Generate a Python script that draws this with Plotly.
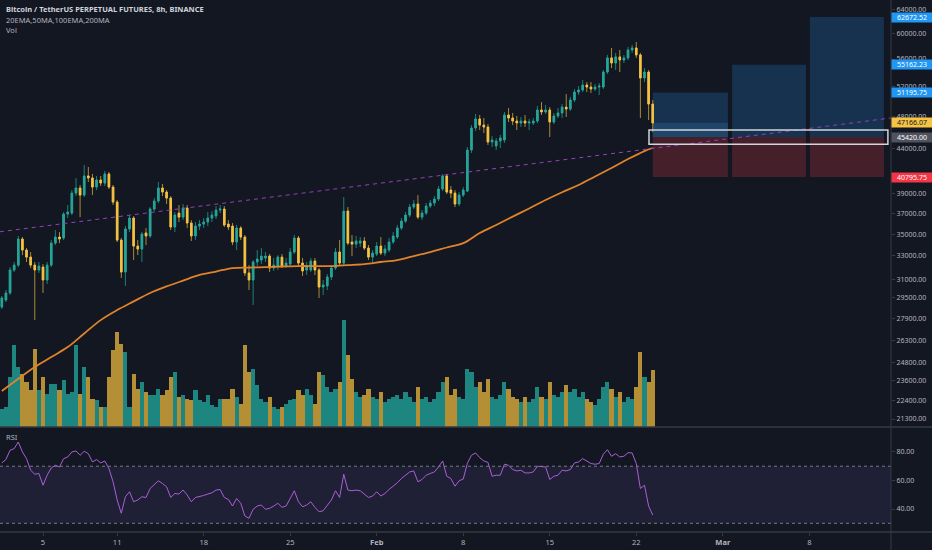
import math
import pandas as pd
import plotly.graph_objects as go

# BTCUSDT perpetual, 8h bars starting 2021-01-01 16:00
first_bar = "2021-01-01 16:00"

opens = [
    28770, 29320, 29880, 31780, 32200, 34540, 33530, 32900, 32200, 31780,
    32030, 30940, 32200, 34160, 34720, 34630, 36930, 37030, 39070, 39610,
    38860, 40910, 40690, 39710, 40470, 40140, 41130, 39710, 38140, 34440,
    31610, 35480, 36540, 33890, 33620, 35100, 34820, 37430, 38250, 39610,
    39180, 38550, 35670, 37030, 36630, 37530, 36050, 34820, 35760, 35950,
    36150, 36540, 36730, 37330, 37430, 35950, 35760, 34260, 35570, 34720,
    31530, 30940, 32470, 32640, 32820, 32990, 31950, 32120, 32900, 32120,
    32290, 33350, 34630, 32380, 31780, 31780, 32550, 31780, 30360, 30450,
    31190, 31950, 33350, 32380, 37230, 34260, 34070, 34160, 34350, 33710,
    32900, 33170, 33890, 33260, 33530, 34260, 34720, 35570, 36240, 36830,
    37630, 37940, 36630, 37030, 37730, 38040, 38450, 39500, 40910, 39390,
    39070, 37940, 38860, 39280, 43860, 46530, 47670, 46900, 46650, 44820,
    44340, 44940, 45060, 48190, 47800, 47410, 47160, 47410, 47160, 47160,
    47410, 48840, 48580, 48840, 47290, 48060, 48450, 49220, 48960, 50160,
    51250, 51530, 52220, 51940, 51670, 51940, 51940, 54080, 56170, 55400,
    56320, 55850, 56170, 57380, 57690, 56620, 53220, 54080, 49620,
]
highs = [
    29640, 30120, 32030, 32470, 34820, 34720, 33710, 33350, 32470, 32470,
    32290, 32470, 34440, 35380, 35190, 37130, 37840, 39390, 40690, 39930,
    42130, 41910, 41130, 40910, 40910, 41460, 41350, 39930, 38350, 34630,
    35760, 36830, 36730, 34440, 35190, 35570, 37630, 38550, 40250, 40040,
    39390, 38760, 37130, 37840, 37940, 37840, 36340, 36150, 36340, 36540,
    37130, 37230, 37730, 37840, 37730, 36340, 36050, 35860, 35760, 34910,
    32200, 32640, 33530, 33710, 33350, 33170, 32820, 33080, 33170, 32820,
    33710, 34910, 34820, 32820, 32470, 32820, 32820, 31950, 30940, 31440,
    32200, 33710, 34440, 38660, 37630, 34910, 34820, 34720, 34720, 33980,
    33530, 34260, 34720, 33980, 34630, 35190, 35860, 36540, 37130, 37940,
    38350, 38860, 37330, 38040, 38350, 38760, 39820, 41130, 41130, 39820,
    39390, 39180, 39710, 44220, 46900, 48320, 48190, 47800, 47030, 45550,
    45300, 45670, 48580, 49090, 48450, 48060, 47930, 48190, 47670, 47800,
    49360, 49890, 49490, 49220, 48450, 49090, 49620, 50970, 50570, 51670,
    52080, 52930, 52640, 52640, 52360, 52500, 54370, 56620, 57690, 56920,
    57380, 56620, 57850, 58160, 58630, 56920, 54660, 54370, 50160,
]
lows = [
    28620, 29160, 29720, 31610, 32030, 33080, 32470, 31950, 27780, 31530,
    29880, 30610, 32030, 33980, 34160, 34440, 36540, 36830, 38760, 36630,
    38660, 40250, 38860, 39390, 39820, 39820, 39500, 37840, 34260, 31110,
    30450, 35190, 32640, 33080, 32470, 33980, 34630, 37230, 38040, 38760,
    37940, 35380, 35190, 36150, 36340, 35570, 34350, 34440, 35380, 35570,
    35760, 36150, 36440, 37030, 35670, 35380, 33980, 33530, 34440, 31270,
    30120, 28930, 32120, 32290, 32470, 31610, 31700, 31780, 31950, 31950,
    32120, 33170, 32120, 31270, 31360, 31610, 31360, 29480, 29720, 30120,
    30940, 31780, 32120, 32120, 33980, 32990, 33710, 33800, 33530, 32640,
    32380, 32990, 33080, 32990, 33350, 34070, 34540, 35380, 36050, 36630,
    37430, 36440, 36340, 36830, 37530, 37730, 38250, 39280, 38970, 38550,
    37630, 37730, 38660, 39180, 43510, 46160, 46280, 45910, 44460, 44220,
    43860, 44100, 44700, 47290, 46900, 46280, 46650, 46650, 46280, 46900,
    47160, 48190, 48320, 45420, 47030, 47800, 47800, 47930, 48710, 49890,
    50840, 51250, 51250, 51110, 51390, 50840, 51670, 53790, 54660, 54370,
    54080, 55400, 55850, 56920, 56170, 47800, 52640, 47540, 46030,
]
closes = [
    29480, 29880, 31780, 32200, 34540, 33530, 32900, 32200, 31780, 32120,
    30940, 32200, 34160, 34720, 34540, 36930, 37130, 39070, 39610, 38860,
    40910, 40690, 39710, 40470, 40140, 41130, 39710, 38140, 34440, 31610,
    35480, 36540, 33890, 33620, 35000, 34820, 37430, 38250, 39610, 39180,
    38550, 35670, 36830, 36630, 37530, 36050, 34820, 35760, 35950, 36150,
    36540, 36830, 37330, 37430, 35860, 35670, 34260, 35570, 34720, 31530,
    30940, 32470, 32730, 32990, 32990, 31950, 32200, 32900, 32120, 32380,
    33350, 34630, 32380, 31700, 32030, 32550, 31780, 30360, 30530, 31190,
    31950, 33350, 32380, 37230, 34160, 34070, 34350, 34350, 33710, 32900,
    33260, 33890, 33260, 33620, 34260, 34820, 35570, 36240, 36830, 37630,
    37940, 36630, 37030, 37730, 38040, 38450, 39500, 40910, 39180, 39070,
    37940, 38860, 39390, 43860, 46530, 47670, 46900, 46650, 44820, 45060,
    44940, 45300, 48190, 47800, 47410, 47160, 47410, 47160, 47290, 47410,
    48840, 48580, 48840, 47290, 48060, 48450, 49220, 48960, 50160, 51250,
    51530, 52220, 51940, 51670, 51940, 52080, 54080, 56170, 55400, 56320,
    55850, 56170, 57380, 57690, 56620, 53220, 54080, 49620, 47166.07,
]
volume_k = [
    18, 20, 50, 82, 60, 53, 45, 37, 78, 37,
    50, 33, 43, 43, 37, 47, 33, 35, 82, 33,
    60, 50, 28, 27, 20, 20, 50, 77, 95, 83,
    75, 20, 53, 38, 45, 35, 32, 32, 38, 32,
    37, 50, 55, 30, 32, 28, 27, 37, 27, 25,
    32, 22, 20, 28, 28, 28, 38, 30, 23, 82,
    55, 58, 42, 28, 25, 30, 20, 18, 20, 23,
    27, 28, 37, 32, 38, 32, 23, 55, 52, 40,
    35, 38, 45, 107, 72, 48, 35, 30, 32, 38,
    30, 28, 35, 25, 28, 30, 32, 28, 35, 30,
    25, 40, 28, 30, 25, 28, 35, 45, 50, 32,
    38, 30, 28, 58, 55, 40, 45, 35, 48, 30,
    28, 32, 45, 38, 30, 28, 25, 30, 25, 28,
    40, 30, 28, 45, 32, 30, 35, 42, 35, 38,
    30, 35, 28, 25, 22, 28, 40, 45, 38, 30,
    35, 25, 30, 28, 40, 75, 50, 45, 57,
]
rsi = [
    72.3, 74.7, 81.2, 82.3, 87.0, 80.0, 75.3, 67.2, 64.4, 64.9,
    56.7, 63.7, 68.8, 70.7, 69.5, 75.3, 76.5, 80.0, 80.7, 77.7,
    80.5, 78.8, 73.0, 74.7, 72.3, 73.7, 68.4, 59.1, 46.3, 37.0,
    48.6, 52.1, 45.1, 46.3, 48.6, 48.1, 54.4, 57.4, 59.8, 57.9,
    55.6, 48.1, 50.9, 50.5, 53.3, 49.8, 45.1, 48.1, 48.6, 49.5,
    50.5, 51.4, 53.3, 53.7, 48.1, 46.7, 42.1, 47.4, 44.0, 35.1,
    33.5, 39.8, 42.1, 42.8, 39.8, 40.5, 42.1, 44.0, 41.2, 42.1,
    47.4, 52.8, 45.1, 41.6, 42.8, 45.1, 41.2, 38.1, 38.8, 42.8,
    46.3, 52.8, 48.1, 64.4, 53.3, 52.8, 53.3, 52.8, 50.5, 48.1,
    49.1, 52.1, 49.1, 50.9, 53.7, 56.0, 58.4, 61.4, 63.7, 66.0,
    66.7, 59.1, 60.7, 63.7, 64.9, 66.0, 69.5, 73.7, 63.0, 61.4,
    56.0, 59.8, 61.0, 72.0, 77.7, 79.3, 76.0, 73.7, 72.7, 63.0,
    63.7, 63.7, 71.4, 70.7, 67.7, 66.7, 67.2, 65.3, 65.3, 66.0,
    70.0, 70.0, 69.5, 60.7, 63.0, 63.7, 67.2, 66.7, 67.7, 72.3,
    73.0, 75.3, 73.7, 71.9, 71.4, 71.9, 78.4, 81.6, 77.0, 78.8,
    76.5, 77.0, 79.5, 79.3, 71.9, 54.4, 56.7, 42.1, 35.8,
]
# moving average (orange) read at every 4th bar
ma_bars = [0, 4, 8, 12, 16, 20, 24, 28, 32, 36, 40, 44, 48, 52, 56, 60, 64, 68, 72, 76,
           80, 84, 88, 92, 96, 100, 104, 108, 112, 116, 120, 124, 128, 132, 136, 140,
           144, 148, 152, 156, 158]
ma_vals = [22960, 23730, 24490, 25160, 25840, 26800, 27780, 28540, 29210, 29880,
           30410, 30890, 31360, 31650, 31950, 31990, 32030, 32080, 32120, 32120,
           32120, 32200, 32290, 32470, 32640, 32990, 33350, 33760, 34160, 35100,
           35860, 36680, 37490, 38350, 39160, 39930, 40850, 41790, 42810, 43740, 44100]

# drawings
trend_dates = ["2021-01-01 12:29", "2021-03-14 14:40"]
trend_prices = [35220, 47800]
entry_price = 45420.00
stop_price = 40795.75
last_price = 47166.07
target_prices = [51195.75, 55162.23, 62672.52]
box_starts = ["2021-02-23 08:00", "2021-03-01 18:00", "2021-03-08 01:00"]
box_ends = ["2021-03-01 10:00", "2021-03-07 17:30", "2021-03-14 01:00"]
zone_dates = ["2021-02-23 00:45", "2021-03-14 08:40"]
zone_prices = [44540, 46290]

price_ticks = [64000, 60000, 56000, 52000, 48000, 44000, 39000, 37000, 35000, 33000,
               31000, 29500, 27900, 26300, 24800, 23600, 22400, 21300]
rsi_ticks = [80, 60, 40]
x_ticks = ["2021-01-05", "2021-01-11", "2021-01-18", "2021-01-25", "2021-02-01",
           "2021-02-08", "2021-02-15", "2021-02-22", "2021-03-01", "2021-03-08"]
x_labels = ["5", "11", "18", "25", "<b>Feb</b>", "8", "15", "22", "<b>Mar</b>", "8"]
x_range = ["2021-01-01 12:29", "2021-03-14 14:40"]
price_range = [20849, 65618]
rsi_range = [23.9, 97.5]

tag_prices = [62672.52, 55162.23, 51195.75, 47166.07, 45420.00, 40795.75]
tag_bg = ["#2196f3", "#2196f3", "#2196f3", "#f6c343", "#50535e", "#f23645"]
tag_fg = ["#ffffff", "#ffffff", "#ffffff", "#131722", "#ffffff", "#ffffff"]

BG = "#131722"
UP, DOWN = "#26a69a", "#f6c343"
UP_WICK, DOWN_WICK = "#1f7f76", "#a98a35"
VOL_UP, VOL_DOWN = "#1e8680", "#b48f36"
LINE = "#363a45"
TXT = "#b2b5be"
FONT = "Noto Sans"

W, H = 932, 550
PLOT_R, PRICE_BOTTOM_PX, RSI_BOTTOM_PX = 891, 427, 532
split = (RSI_BOTTOM_PX - PRICE_BOTTOM_PX) / RSI_BOTTOM_PX

bar_times = pd.date_range(first_bar, periods=len(closes), freq="8h")
ma_times = [bar_times[i] for i in ma_bars]

fig = go.Figure()

# volume (base axis so price traces sit on top)
vol_colors = [VOL_UP if c >= o else VOL_DOWN for o, c in zip(opens, closes)]
fig.add_trace(go.Bar(x=bar_times, y=volume_k, marker=dict(color=vol_colors, line=dict(width=0)),
                     xaxis="x", yaxis="y", hoverinfo="skip"))

# candles: full range with dim wicks, then bodies on top
fig.add_trace(go.Candlestick(
    x=bar_times, open=opens, high=highs, low=lows, close=closes, xaxis="x", yaxis="y3",
    increasing=dict(line=dict(color=UP_WICK, width=1), fillcolor=UP),
    decreasing=dict(line=dict(color=DOWN_WICK, width=1), fillcolor=DOWN),
    hoverinfo="skip"))
body_hi = [max(o, c) for o, c in zip(opens, closes)]
body_lo = [min(o, c) for o, c in zip(opens, closes)]
fig.add_trace(go.Candlestick(
    x=bar_times, open=opens, high=body_hi, low=body_lo, close=closes, xaxis="x", yaxis="y3",
    increasing=dict(line=dict(color=UP, width=0.8), fillcolor=UP),
    decreasing=dict(line=dict(color=DOWN, width=0.8), fillcolor=DOWN),
    hoverinfo="skip"))

fig.add_trace(go.Scatter(x=ma_times, y=ma_vals, mode="lines", line=dict(color="#e0832a", width=1.8, shape="spline"),
                         xaxis="x", yaxis="y3", hoverinfo="skip"))
fig.add_trace(go.Scatter(x=trend_dates, y=trend_prices, mode="lines",
                         line=dict(color="#9440b8", width=1, dash="4px,4px"),
                         xaxis="x", yaxis="y3", hoverinfo="skip"))

# RSI pane
fig.add_trace(go.Scatter(x=bar_times, y=rsi, mode="lines", line=dict(color="#a95fd6", width=1),
                         xaxis="x", yaxis="y2", hoverinfo="skip"))

shapes = []
# long position tool
for x0, x1, tp in zip(box_starts, box_ends, target_prices):
    shapes.append(dict(type="rect", xref="x", yref="y3", x0=x0, x1=x1, y0=entry_price, y1=tp,
                       fillcolor="#17324f", line=dict(width=0), layer="below"))
    shapes.append(dict(type="rect", xref="x", yref="y3", x0=x0, x1=x1, y0=stop_price, y1=entry_price,
                       fillcolor="#45202a", line=dict(width=0), layer="below"))
shapes.append(dict(type="rect", xref="x", yref="y3", x0=box_starts[0], x1=box_ends[0],
                   y0=entry_price, y1=last_price, fillcolor="#1f4669", line=dict(width=0), layer="below"))
shapes.append(dict(type="rect", xref="x", yref="y3", x0=zone_dates[0], x1=zone_dates[1],
                   y0=zone_prices[0], y1=zone_prices[1], fillcolor="rgba(0,0,0,0)",
                   line=dict(color="#d1d4dc", width=1.5)))
# RSI band
shapes.append(dict(type="rect", xref="paper", yref="y2", x0=0, x1=1, y0=30, y1=70,
                   fillcolor="rgba(126,87,194,0.12)", line=dict(width=0), layer="below"))
for lvl in (70, 30):
    shapes.append(dict(type="line", xref="paper", yref="y2", x0=0, x1=1, y0=lvl, y1=lvl,
                       line=dict(color="#787b86", width=1, dash="3px,3px")))
# pane separators and price-scale border
right_edge = W / PLOT_R
for yy in (split, 0):
    shapes.append(dict(type="line", xref="paper", yref="paper", x0=0, x1=right_edge, y0=yy, y1=yy,
                       line=dict(color=LINE, width=1.5)))
shapes.append(dict(type="line", xref="paper", yref="paper", x0=1, x1=1, y0=-(H - RSI_BOTTOM_PX) / RSI_BOTTOM_PX, y1=1,
                   line=dict(color=LINE, width=1)))

annotations = []
for p, bg, fg in zip(tag_prices, tag_bg, tag_fg):
    annotations.append(dict(x=1, xref="paper", y=math.log10(p), yref="y3", xanchor="left", yanchor="middle",
                            text=f"{p:.2f}", showarrow=False, bgcolor=bg, width=40, height=9, borderpad=0,
                            font=dict(family=FONT, size=7, color=fg)))


def py(px):
    return (RSI_BOTTOM_PX - px) / RSI_BOTTOM_PX


legend_lines = [
    ("<b>Bitcoin / TetherUS PERPETUAL FUTURES, 8h, BINANCE</b>", 9, "#d1d4dc"),
    ("20EMA,50MA,100EMA,200MA", 20, TXT),
    ("Vol", 30, TXT),
    ("RSI", 437, TXT),
]
for txt, ypx, col in legend_lines:
    annotations.append(dict(x=4 / PLOT_R, xref="paper", y=py(ypx), yref="paper", xanchor="left", yanchor="middle",
                            text=txt, showarrow=False, font=dict(family=FONT, size=7.5, color=col)))

tickfont = dict(family=FONT, size=7, color=TXT)
fig.update_layout(
    width=W, height=H,
    margin=dict(l=0, r=W - PLOT_R, t=0, b=H - RSI_BOTTOM_PX),
    paper_bgcolor=BG, plot_bgcolor=BG,
    showlegend=False, bargap=0, boxgap=0.45, boxgroupgap=0.3,
    hovermode=False,
    xaxis=dict(type="date", range=x_range, domain=[0, 1], anchor="y2",
               rangeslider=dict(visible=False), showgrid=False, zeroline=False,
               tickvals=x_ticks, ticktext=x_labels, ticks="outside", ticklen=3, tickcolor=LINE,
               tickfont=dict(family=FONT, size=7.5, color=TXT), showline=False),
    yaxis=dict(domain=[split, 1], range=[0, PRICE_BOTTOM_PX], visible=False, fixedrange=True),
    yaxis3=dict(overlaying="y", anchor="x", side="right", type="log",
                range=[math.log10(price_range[0]), math.log10(price_range[1])],
                tickvals=price_ticks, ticktext=[f"{v:.2f}" for v in price_ticks],
                showgrid=False, zeroline=False, ticks="outside", ticklen=3, tickcolor=LINE,
                tickfont=tickfont),
    yaxis2=dict(domain=[0, split], anchor="x", side="right", range=rsi_range,
                tickvals=rsi_ticks, ticktext=[f"{v:.2f}" for v in rsi_ticks],
                showgrid=False, zeroline=False, ticks="outside", ticklen=3, tickcolor=LINE,
                tickfont=tickfont),
    shapes=shapes,
    annotations=annotations,
)

fig.write_html("out.html", config={"displayModeBar": False},
               post_script="document.body.style.margin='0';document.body.style.background='#131722';")
